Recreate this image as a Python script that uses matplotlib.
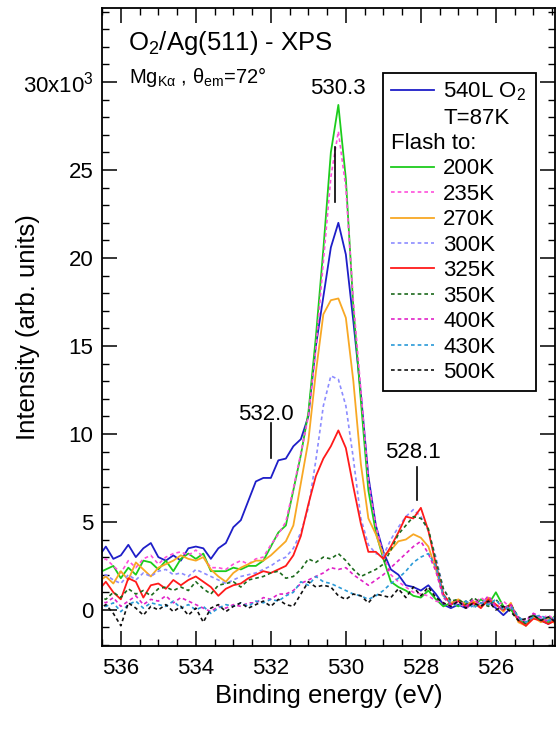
import numpy as np
import matplotlib
matplotlib.use("Agg")
import matplotlib.pyplot as plt
from matplotlib.lines import Line2D
from matplotlib.ticker import MultipleLocator

plt.rcParams["font.family"] = ["Liberation Sans", "DejaVu Sans"]
plt.rcParams["mathtext.fontset"] = "custom"
plt.rcParams["mathtext.rm"] = "Liberation Sans"
plt.rcParams["mathtext.it"] = "Liberation Sans:italic"
plt.rcParams["mathtext.default"] = "regular"

# Binding energy grid (eV), 536.6 -> 524.2 in 0.2 eV steps
energy = np.round(np.arange(536.6, 524.1, -0.2), 1)

# Intensities in units of 10^3 (arb. units)
o2_87K = [3.0, 3.6, 2.9, 3.1, 3.7, 3.0, 3.5, 3.8, 3.0, 2.8,
          3.1, 2.8, 3.5, 3.6, 3.5, 2.9, 3.5, 3.8, 4.7, 5.1,
          6.2, 7.3, 7.5, 7.5, 8.5, 8.6, 9.3, 9.7, 11.0, 15.0,
          17.8, 20.6, 22.0, 20.2, 16.4, 12.3, 7.6, 4.8, 3.3, 2.3,
          2.0, 1.4, 1.3, 1.1, 1.4, 0.9, 0.3, 0.1, 0.3, 0.1,
          0.4, 0.2, 0.5, 0.1, -0.3, 0.1, -0.6, -0.8, -0.4, -0.6,
          -0.8, -0.4, -0.6]
flash_200K = [2.1, 2.3, 2.5, 1.8, 2.4, 2.0, 2.8, 2.7, 2.3, 2.8,
              2.2, 2.9, 3.2, 2.9, 3.2, 2.2, 2.2, 2.2, 2.4, 2.3,
              2.5, 2.5, 2.8, 3.6, 4.4, 4.8, 6.8, 8.8, 11.2, 15.5,
              20.5, 26.0, 28.7, 24.5, 17.2, 11.9, 6.8, 4.4, 2.9, 1.6,
              1.3, 1.1, 0.8, 0.7, 1.1, 0.6, 0.2, 0.4, 0.2, 0.5,
              0.2, 0.6, 0.3, 1.0, 0.2, 0.0, -0.5, -0.9, -0.3, -0.6,
              -0.7, -0.3, -0.5]
flash_235K = [2.7, 2.9, 2.5, 2.1, 2.8, 2.4, 2.9, 3.1, 2.6, 3.0,
              3.2, 3.3, 3.1, 3.4, 3.0, 2.4, 2.4, 2.3, 2.6, 2.8,
              2.6, 2.9, 3.0, 3.7, 4.3, 5.0, 6.9, 8.9, 11.0, 14.8,
              19.8, 24.6, 27.2, 24.0, 17.5, 12.5, 7.4, 4.8, 3.1, 2.0,
              1.6, 1.3, 1.0, 0.9, 0.8, 0.5, 0.4, 0.2, 0.4, 0.1,
              0.3, 0.7, 0.4, 0.2, 0.5, 0.1, -0.4, -0.7, -0.2, -0.5,
              -0.3, -0.6, -0.4]
flash_270K = [1.6, 1.9, 1.5, 2.2, 1.7, 2.7, 2.3, 1.9, 2.4, 2.6,
              2.8, 3.1, 2.9, 2.8, 3.0, 2.3, 1.9, 1.6, 2.1, 2.4,
              2.6, 2.8, 2.8, 3.1, 3.5, 3.9, 4.8, 7.2, 9.6, 13.5,
              16.8, 17.6, 17.7, 16.6, 13.0, 8.3, 5.2, 4.3, 3.1, 3.4,
              3.9, 4.0, 4.3, 4.1, 3.6, 2.3, 0.8, 0.4, 0.6, 0.3,
              0.5, 0.2, 0.7, 0.3, -0.1, 0.4, -0.7, -0.9, -0.4, -0.7,
              -0.5, -0.8, -0.5]
flash_300K = [1.8, 2.0, 1.7, 1.5, 2.0, 1.7, 2.1, 1.9, 2.2, 2.3,
              2.0, 2.1, 1.9, 2.3, 2.1, 1.9, 1.7, 1.5, 1.7, 1.9,
              2.0, 2.1, 2.3, 2.5, 2.8, 3.0, 3.5, 4.4, 5.8, 8.5,
              11.6, 13.3, 13.1, 11.6, 8.6, 5.2, 3.7, 3.2, 3.1, 4.0,
              4.7, 5.3, 5.7, 5.3, 4.5, 3.0, 1.2, 0.5, 0.3, 0.5,
              0.2, 0.4, 0.6, 0.2, 0.0, 0.2, -0.5, -0.7, -0.3, -0.5,
              -0.6, -0.4, -0.6]
flash_325K = [1.1, 1.6, 1.0, 0.6, 1.8, 1.6, 0.7, 1.4, 1.5, 1.2,
              1.7, 1.4, 1.7, 1.9, 1.6, 1.3, 0.8, 1.2, 1.4, 1.5,
              1.8, 2.0, 2.2, 2.1, 2.3, 2.5, 3.1, 4.2, 6.0, 7.6,
              8.6, 9.3, 10.2, 9.2, 7.0, 4.9, 3.3, 3.3, 2.9, 3.6,
              4.4, 5.3, 5.2, 5.8, 4.5, 2.6, 0.9, 0.3, 0.5, 0.2,
              0.4, 0.1, 0.6, 0.3, 0.0, 0.3, -0.6, -0.9, -0.5, -0.6,
              -0.8, -0.6, -0.8]
flash_350K = [0.8, 0.6, 1.0, 0.7, 1.2, 0.9, 1.1, 0.8, 1.2, 1.3,
              1.1, 1.3, 1.1, 1.6, 1.2, 0.9, 1.4, 1.5, 1.6, 1.3,
              1.7, 1.8, 1.9, 2.1, 2.2, 1.8, 1.9, 2.3, 2.9, 2.7,
              3.0, 2.9, 3.2, 2.8, 2.3, 1.9, 2.1, 2.3, 2.6, 3.4,
              4.3, 4.8, 5.3, 5.2, 4.6, 2.8, 1.2, 0.5, 0.6, 0.3,
              0.7, 0.4, 0.2, 0.6, 0.1, 0.3, -0.4, -0.8, -0.3, -0.6,
              -0.4, -0.7, -0.5]
flash_400K = [0.6, 0.4, 0.7, 0.2, 0.5, 0.8, 0.3, 0.6, 0.5, 0.8,
              0.4, 0.7, 0.5, 0.3, 0.1, -0.1, 0.2, 0.1, 0.3, 0.2,
              0.4, 0.4, 0.7, 0.6, 0.9, 0.9, 1.1, 1.5, 1.7, 1.9,
              2.1, 2.4, 2.3, 2.4, 2.0, 1.7, 1.4, 1.7, 2.0, 2.4,
              2.8, 3.2, 3.6, 3.9, 3.2, 2.2, 0.7, 0.3, 0.5, 0.2,
              0.6, 0.3, 0.8, 0.2, 0.1, 0.3, -0.5, -0.6, -0.2, -0.4,
              -0.7, -0.3, -0.5]
flash_430K = [0.3, 0.2, 0.4, -0.1, 0.3, 0.5, 0.1, 0.4, 0.3, 0.2,
              0.5, 0.1, 0.3, 0.0, 0.2, -0.2, 0.1, 0.3, 0.2, 0.4,
              0.2, 0.5, 0.4, 0.6, 0.5, 0.8, 1.0, 1.6, 1.4, 1.9,
              1.6, 1.5, 1.3, 1.1, 0.9, 0.8, 0.6, 0.8, 1.1, 1.5,
              1.8, 2.2, 2.7, 3.0, 3.2, 2.5, 0.8, 0.4, 0.2, 0.5,
              0.1, 0.4, 0.3, 0.6, 0.0, 0.2, -0.4, -0.7, -0.4, -0.3,
              -0.6, -0.5, -0.3]
flash_500K = [0.0, 0.3, -0.2, -0.9, 0.4, 0.1, -0.3, 0.2, 0.0, 0.3,
              -0.1, 0.2, -0.3, 0.1, -0.7, 0.1, 0.3, -0.1, 0.2, 0.4,
              0.1, 0.3, 0.5, 0.2, 0.6, 0.3, 0.2, 0.9, 1.6, 1.3,
              1.4, 1.3, 0.8, 0.6, 0.9, 0.8, 0.4, 0.9, 0.8, 0.7,
              1.2, 0.7, 1.3, 0.8, 1.3, 0.7, 0.4, 0.2, 0.5, 0.1,
              0.4, 0.2, 0.5, 0.0, 0.2, -0.1, -0.6, -0.5, -0.3, -0.6,
              -0.4, -0.7, -0.4]

flash_labels = ["200K", "235K", "270K", "300K", "325K", "350K", "400K", "430K", "500K"]
flash_data = [flash_200K, flash_235K, flash_270K, flash_300K, flash_325K,
              flash_350K, flash_400K, flash_430K, flash_500K]
flash_colors = ["#1ccc1c", "#ff4fdc", "#f8a824", "#8c8cff", "#ff1a1a",
                "#1d6a1d", "#e022c8", "#2a9ad8", "#111111"]
flash_dashed = [False, True, False, True, False, True, True, True, True]

# peak labels: value, text position (eV, 10^3), tick range (10^3)
peak_labels = [532.0, 530.3, 528.1]
peak_text_xy = [(532.13, 10.8), (530.20, 29.3), (528.20, 8.62)]
peak_tick_y = [(8.64, 10.63), (23.2, 26.3), (6.25, 8.13)]

dash = (0, (2.2, 1.8))

fig = plt.figure(figsize=(5.57, 7.29), dpi=100)
ax = fig.add_axes([0.1826, 0.1139, 0.8147, 0.8747])

# --- widma ---
handles = []
h, = ax.plot(energy, o2_87K, color="#1e1ec8", lw=1.3)
handles.append(h)
handles.append(Line2D([], [], linestyle="none"))
handles.append(Line2D([], [], linestyle="none"))
for lab, vals, col, dsh in zip(flash_labels, flash_data, flash_colors, flash_dashed):
    h, = ax.plot(energy, vals, color=col, lw=1.3 if not dsh else 1.2,
                 linestyle=dash if dsh else "-")
    handles.append(h)

# --- opisy pików ---
for pos, (tx, ty), (y0, y1) in zip(peak_labels, peak_text_xy, peak_tick_y):
    ax.text(tx, ty, f"{pos:.1f}", ha="center", va="baseline", fontsize=16)
    ax.plot([pos, pos], [y0, y1], color="black", lw=1.2)

ax.text(0.0586, 0.9346, "O$_2$/Ag(511) - XPS", transform=ax.transAxes,
        fontsize=18.5, va="baseline")
ax.text(0.0608, 0.8824, r"Mg$_{K\alpha}$ , $\theta_{em}$=72°", transform=ax.transAxes,
        fontsize=14.5, va="baseline")

# --- osie ---
ax.set_xlim(536.51, 524.41)
ax.set_ylim(-2.05, 34.19)
ax.xaxis.set_major_locator(MultipleLocator(2))
ax.xaxis.set_minor_locator(MultipleLocator(0.5))
ax.set_yticks([0, 5, 10, 15, 20, 25, 30])
ax.set_yticklabels(["0", "5", "10", "15", "20", "25", "30x10$^3$"])
ax.yaxis.set_minor_locator(MultipleLocator(1))
ax.tick_params(which="both", direction="in", top=True, right=True, labelsize=16)
ax.tick_params(which="major", length=11, width=1.1)
ax.tick_params(which="minor", length=5, width=1.0)
ax.tick_params(axis="x", pad=9)
ax.tick_params(axis="y", pad=6)
for sp in ax.spines.values():
    sp.set_linewidth(1.3)

ax.set_xlabel("Binding energy (eV)", fontsize=18.5, labelpad=3)
ax.set_ylabel("Intensity (arb. units)", fontsize=18.5)
ax.yaxis.set_label_coords(-0.137, 0.5)

# --- legenda ---
leg_fs = 16
labels = ["540L O$_2$", "T=87K", "Flash to:"] + flash_labels
leg = ax.legend(handles, labels, loc="upper left", bbox_to_anchor=(0.62, 0.899),
                borderaxespad=0, fontsize=leg_fs, handlelength=1.95, handletextpad=0.4,
                labelspacing=0.2, borderpad=0.35, fancybox=False, framealpha=1,
                edgecolor="black")
leg.get_frame().set_linewidth(1.3)
# "Flash to:" zaczyna się od lewej krawędzi ramki
leg.get_texts()[2].set_x(-(1.95 + 0.4) * leg_fs * fig.dpi / 72)

plt.savefig("out.png", dpi=100)
